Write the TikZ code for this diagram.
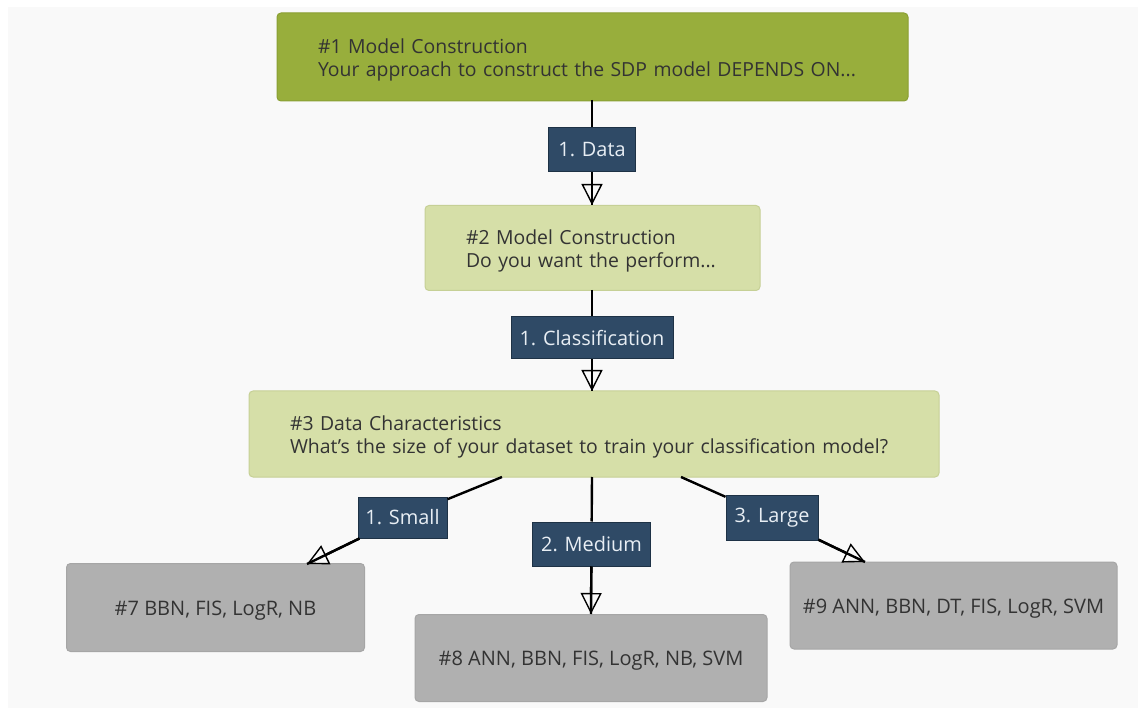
\documentclass[tikz,border=0pt]{standalone}
\usepackage{fontspec}
\setmainfont{Open Sans}
\usetikzlibrary{arrows.meta}
\definecolor{canvas}{HTML}{F9F9F9}
\definecolor{rootfill}{HTML}{98AE3C}
\definecolor{rootedge}{HTML}{8A9F33}
\definecolor{qfill}{HTML}{D6DFA8}
\definecolor{qedge}{HTML}{C6D096}
\definecolor{leaffill}{HTML}{B0B0B0}
\definecolor{leafedge}{HTML}{A6A6A6}
\definecolor{tagfill}{HTML}{2F4A66}
\definecolor{tagedge}{HTML}{1E3246}
\definecolor{tagtext}{HTML}{E8EEF4}
\definecolor{bodytext}{HTML}{333333}
\tikzset{
  box/.style={rectangle, rounded corners=4pt, line width=1pt, inner ysep=0pt,
    font=\fontsize{19.4}{22.5}\selectfont, text=bodytext},
  question/.style={box, align=left, inner xsep=41pt, text height=21pt},
  rootbox/.style={question, fill=rootfill, draw=rootedge},
  qbox/.style={question, fill=qfill, draw=qedge},
  leafbox/.style={box, fill=leaffill, draw=leafedge, align=center,
    font=\fontsize{20}{22.5}\selectfont, text height=20pt, text depth=5pt},
  tag/.style={rectangle, fill=tagfill, draw=tagedge, line width=1pt,
    text=tagtext, font=\fontsize{19.9}{22}\selectfont, inner xsep=0pt, inner ysep=0pt},
  edge/.style={draw=black, line width=2.4pt},
  tip/.style={-{Triangle[open, length=21pt, width=21pt, line width=1.4pt]}}
}
\begin{document}
\begin{tikzpicture}[x=1pt, y=-1pt]
  \useasboundingbox (0,0) rectangle (1138,708);
  \fill[white] (0,0) rectangle (1138,708);
  \fill[canvas] (8,7) rectangle (1138,708);

  % question boxes (each line kept whole)
  \node[rootbox, minimum width=631pt, minimum height=88pt, text width=549pt]
    (q1) at (592.5,57) {\mbox{\#1 Model Construction}\\\mbox{Your approach to construct the SDP model DEPENDS ON...}};
  \node[qbox, minimum width=335pt, minimum height=85pt, text width=253pt]
    (q2) at (592.5,248) {\mbox{\#2 Model Construction}\\\mbox{Do you want the perform...}};
  \node[qbox, minimum width=690pt, minimum height=86pt, text width=608pt]
    (q3) at (594,434) {\mbox{\#3 Data Characteristics}\\\mbox{What's the size of your dataset to train your classification model?}};

  % result boxes
  \node[leafbox, minimum width=298pt, minimum height=88pt] (r7) at (215.5,607.5) {\#7 BBN, FIS, LogR, NB};
  \node[leafbox, minimum width=352pt, minimum height=87pt] (r8) at (591,658) {\#8 ANN, BBN, FIS, LogR, NB, SVM};
  \node[leafbox, minimum width=327pt, minimum height=87pt] (r9) at (953.5,605.5) {\#9 ANN, BBN, DT, FIS, LogR, SVM};

  % answer tags
  \node[tag, minimum width=87pt, minimum height=44pt] (a1) at (592,150) {1. Data};
  \node[tag, minimum width=162pt, minimum height=42pt] (a2) at (592,338) {1. Classification};
  \node[tag, minimum width=89pt, minimum height=41pt] (a3) at (402.5,517.5) {1. Small};
  \node[tag, minimum width=118pt, minimum height=44pt] (a4) at (591.5,544) {2. Medium};
  \node[tag, minimum width=92pt, minimum height=45pt] (a5) at (772,517.5) {3. Large};

  % connector end points on the box borders
  \coordinate (q1s) at (592,100);
  \coordinate (q2n) at (592,205);
  \coordinate (q2s) at (592,290);
  \coordinate (q3n) at (592,391);
  \coordinate (q3l) at (502,477);
  \coordinate (q3m) at (592,477);
  \coordinate (q3r) at (681,477);
  \coordinate (r7n) at (307,564);
  \coordinate (r8n) at (591,614);
  \coordinate (r9n) at (865,562);

  % connectors: source -- tag -- target, the open head sits over the line end
  \path[edge] (q1s) -- (a1);
  \path[edge] (a1) -- (q2n);
  \path[edge, tip] (a1) -- (q2n);
  \path[edge] (q2s) -- (a2);
  \path[edge] (a2) -- (q3n);
  \path[edge, tip] (a2) -- (q3n);
  \path[edge] (q3l) -- (a3);
  \path[edge] (a3) -- (r7n);
  \path[edge, tip] (a3) -- (r7n);
  \path[edge] (q3m) -- (a4);
  \path[edge] (a4) -- (r8n);
  \path[edge, tip] (a4) -- (r8n);
  \path[edge] (q3r) -- (a5);
  \path[edge] (a5) -- (r9n);
  \path[edge, tip] (a5) -- (r9n);
\end{tikzpicture}
\end{document}
